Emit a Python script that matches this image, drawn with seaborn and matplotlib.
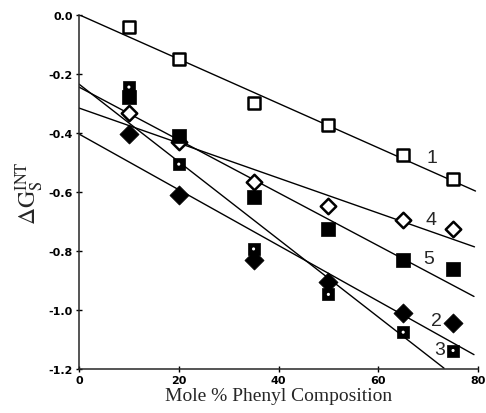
"""Interaction free energy vs mole % phenyl composition."""

import matplotlib

matplotlib.use("Agg")
import matplotlib.pyplot as plt
import pandas as pd
import seaborn as sns

# measured points, one list per curve
mole_pct = [10, 20, 35, 50, 65, 75]
curve_1 = [-0.04, -0.15, -0.30, -0.375, -0.476, -0.555]
curve_2 = [-0.404, -0.611, -0.829, -0.905, -1.009, -1.043]
curve_3 = [-0.245, -0.506, -0.793, -0.947, -1.075, -1.137]
curve_4 = [-0.334, -0.43, -0.565, -0.647, -0.695, -0.726]
curve_5 = [-0.28, -0.41, -0.616, -0.726, -0.83, -0.862]

# fitted straight lines: value at x=0 and at the line end
fit_names = ["1", "2", "3", "4", "5"]
fit_x_end = [79.5, 79.2, 73.2, 79.3, 79.2]
fit_y_start = [0.0, -0.404, -0.235, -0.316, -0.245]
fit_y_end = [-0.597, -1.151, -1.197, -0.786, -0.954]

# curve number labels
label_x = [70.7, 71.6, 72.3, 70.6, 70.2]
label_y = [-0.483, -1.034, -1.133, -0.693, -0.826]

x_ticks = [0, 20, 40, 60, 80]
y_ticks = [0.0, -0.2, -0.4, -0.6, -0.8, -1.0, -1.2]

sns.set_style("ticks")
plt.rcParams["axes.unicode_minus"] = False
plt.rcParams["mathtext.fontset"] = "stix"
plt.rcParams["font.family"] = ["DejaVu Sans"]

fig = plt.figure(figsize=(4.86, 4.14), dpi=100)
ax = fig.add_axes([0.1626, 0.106, 0.8209, 0.856])

for name, xe, y0, y1 in zip(fit_names, fit_x_end, fit_y_start, fit_y_end):
    sns.lineplot(x=[0, xe], y=[y0, y1], color="black", lw=1.0, ax=ax, zorder=1)

pts = pd.DataFrame(
    {"x": mole_pct, "c1": curve_1, "c2": curve_2, "c3": curve_3, "c4": curve_4, "c5": curve_5}
)

# 1: open squares
sns.scatterplot(data=pts, x="x", y="c1", marker="s", s=75, facecolor="white",
                edgecolor="black", linewidth=1.8, ax=ax, zorder=3)
# 4: open diamonds
sns.scatterplot(data=pts, x="x", y="c4", marker="D", s=62, facecolor="white",
                edgecolor="black", linewidth=1.8, ax=ax, zorder=3)
# 5: filled squares
sns.scatterplot(data=pts, x="x", y="c5", marker="s", s=95, color="black",
                edgecolor="black", linewidth=0.5, ax=ax, zorder=3)
# 2: filled diamonds
sns.scatterplot(data=pts, x="x", y="c2", marker="D", s=95, color="black",
                edgecolor="black", linewidth=0.5, ax=ax, zorder=3)
# 3: filled squares with a white dot
sns.scatterplot(data=pts, x="x", y="c3", marker="s", s=85, color="black",
                edgecolor="black", linewidth=0.5, ax=ax, zorder=4)
sns.scatterplot(data=pts, x="x", y="c3", marker="o", s=5, color="white",
                edgecolor="none", ax=ax, zorder=5)

for name, lx, ly in zip(fit_names, label_x, label_y):
    ax.text(lx, ly, name, fontsize=14, family="Liberation Sans",
            ha="center", va="center", zorder=6)

ax.set_xlim(0, 80)
ax.set_ylim(-1.2, 0.0)
ax.set_xticks(x_ticks)
ax.set_yticks(y_ticks)
ax.set_xticklabels([str(t) for t in x_ticks], fontsize=8, fontweight="bold")
ax.set_yticklabels([f"{t:.1f}" for t in y_ticks], fontsize=8, fontweight="bold")
ax.tick_params(direction="inout", length=5, width=1, colors="black", pad=2)

sns.despine(ax=ax)
ax.spines["left"].set_linewidth(1.1)
ax.spines["bottom"].set_linewidth(1.1)

ax.set_xlabel("Mole % Phenyl Composition", fontsize=14, family="Liberation Serif", labelpad=1)
ax.set_ylabel(r"$\Delta\mathrm{G}_\mathrm{S}^{\mathrm{INT}}$", fontsize=17, labelpad=2)

fig.savefig("out.png", dpi=100)
